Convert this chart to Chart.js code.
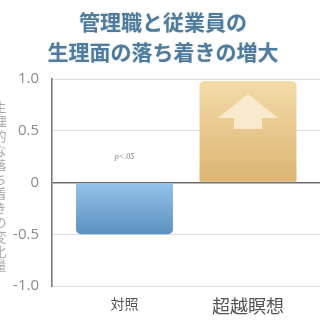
<!DOCTYPE html>
<html><head><meta charset="utf-8">
<script src="https://cdn.jsdelivr.net/npm/chart.js@4"></script>
<style>html,body{margin:0;padding:0;background:#fff;}#wrap{position:absolute;left:0;top:0;width:320px;height:320px;}</style>
</head><body><div id="wrap"><canvas id="c" width="320" height="320"></canvas></div>
<script>
const categories = ['対照', '超越瞑想'];
const values = [-0.5, 0.98];
const yTicks = [-1.0, -0.5, 0, 0.5, 1.0];
const yTickLabels = ['-1.0', '-0.5', '0', '0.5', '1.0'];
const titleLines = ['管理職と従業員の', '生理面の落ち着きの増大'];
const yTitle = '生理的な落ち着きの変化量';
const note = 'p<.05';
const noteValue = 0.25;

const topColors = ['#94c4e9', '#f3dba8'];
const botColors = ['#5b90c0', '#dcb472'];

function barColor(ctx) {
  const chart = ctx.chart;
  if (!chart.chartArea) return topColors[ctx.dataIndex];
  const y = chart.scales.y;
  const v = values[ctx.dataIndex];
  const yTop = y.getPixelForValue(Math.max(v, 0));
  const yBot = y.getPixelForValue(Math.min(v, 0));
  const g = chart.ctx.createLinearGradient(0, yTop, 0, yBot);
  g.addColorStop(0, topColors[ctx.dataIndex]);
  g.addColorStop(1, botColors[ctx.dataIndex]);
  return g;
}

const decor = {
  id: 'decor',
  afterDatasetsDraw(chart) {
    const c = chart.ctx;
    const meta = chart.getDatasetMeta(0);
    const b = meta.data[1];
    const cx = b.x, t = b.y;
    c.save();
    c.fillStyle = '#f9eacd';
    c.beginPath();
    c.moveTo(cx, t + 13);
    c.lineTo(cx + 30, t + 37);
    c.lineTo(cx + 14, t + 37);
    c.lineTo(cx + 14, t + 48);
    c.lineTo(cx - 14, t + 48);
    c.lineTo(cx - 14, t + 37);
    c.lineTo(cx - 30, t + 37);
    c.closePath();
    c.fill();
    const a = meta.data[0];
    c.fillStyle = '#7a7a7a';
    c.font = 'italic 8px "Liberation Serif"';
    c.textAlign = 'center';
    c.textBaseline = 'middle';
    c.fillText(note, a.x, chart.scales.y.getPixelForValue(noteValue));
    c.restore();
  },
  afterDraw(chart) {
    const c = chart.ctx;
    c.save();
    c.textAlign = 'center';
    c.textBaseline = 'middle';
    c.font = 'bold 21px "Noto Sans CJK JP"';
    c.fillStyle = '#4f7c9c';
    c.shadowColor = 'rgba(120,150,170,0.35)';
    c.shadowBlur = 2;
    c.fillText(titleLines[0], 163, 22);
    c.fillText(titleLines[1], 163, 52);
    c.shadowBlur = 0;
    c.font = '13px "Noto Sans CJK JP"';
    c.fillStyle = '#a8a8a8';
    const chars = Array.from(yTitle);
    const step = 14.4;
    const start = 107;
    chars.forEach((ch, i) => c.fillText(ch, 0, start + i * step));
    c.restore();
  }
};

new Chart(document.getElementById('c'), {
  type: 'bar',
  data: {
    datasets: [{
      data: values.map((v, i) => ({ x: i, y: v })),
      backgroundColor: barColor,
      borderRadius: 5,
      borderSkipped: 'start',
      barPercentage: 0.785,
      categoryPercentage: 1
    }]
  },
  options: {
    responsive: false,
    animation: false,
    devicePixelRatio: 1,
    layout: { padding: { top: 79, right: 0, left: 0, bottom: 0 } },
    plugins: { legend: { display: false }, tooltip: { enabled: false }, title: { display: false } },
    scales: {
      x: {
        type: 'linear',
        min: -0.587,
        max: 1.583,
        offset: false,
        bounds: 'data',
        afterBuildTicks(s) { s.ticks = categories.map((_, i) => ({ value: i })); },
        afterFit(s) { s.height = 34; },
        grid: { display: false, drawTicks: false, offset: false },
        border: { display: false },
        ticks: {
          padding: 9,
          color: '#555',
          maxRotation: 0,
          autoSkip: false,
          font: (ctx) => ({ family: '"Noto Sans CJK JP"', size: ctx.index === 1 ? 18 : 14 }),
          callback: (v) => categories[v]
        }
      },
      y: {
        min: -1, max: 1,
        afterBuildTicks(s) { s.ticks = yTicks.map(v => ({ value: v })); },
        afterFit(s) { s.width = 52; },
        grid: {
          drawTicks: false,
          color: (ctx) => ctx.tick && ctx.tick.value === 0 ? '#6e6e6e' : '#dedede',
          lineWidth: (ctx) => ctx.tick && ctx.tick.value === 0 ? 1.6 : 1
        },
        border: { display: true, color: '#7a7a7a', width: 1.6 },
        ticks: {
          padding: 13,
          color: '#8a8a8a',
          font: { family: '"Open Sans"', size: 15 },
          callback: (v) => yTickLabels[yTicks.indexOf(v)]
        }
      }
    }
  },
  plugins: [decor]
});
</script></body></html>
